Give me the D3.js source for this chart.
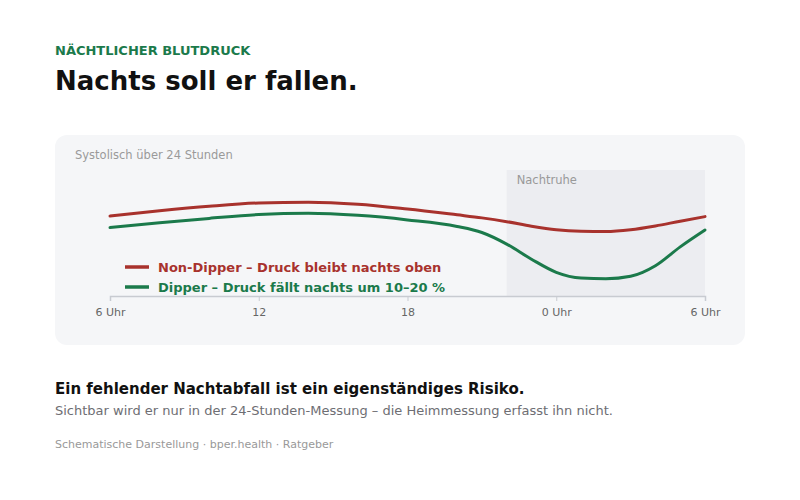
<!DOCTYPE html>
<html>
<head>
<meta charset="utf-8">
<script src="https://cdn.jsdelivr.net/npm/d3@7"></script>
<style>
  body { margin: 0; background: #fff; }
  svg { display: block; font-family: "DejaVu Sans", sans-serif; }
</style>
</head>
<body>
<div id="chart"></div>
<script>
// hours after 6 Uhr (0..24)
var hours = [0, 2, 4, 6, 8, 10, 12, 14, 15, 16, 17, 18, 19, 20, 21, 22, 23, 24];
// schematic systolic values (mmHg)
var nonDipper = [131.7, 133.8, 135.6, 136.9, 137.2, 136.4, 134.5, 132.2, 131.0, 129.5, 127.7, 126.3, 125.7, 125.6, 126.3, 127.8, 129.7, 131.5];
var dipper    = [127.2, 129.1, 130.8, 132.3, 132.8, 132.0, 130.2, 127.6, 125.2, 120.6, 114.6, 109.4, 107.1, 106.8, 107.8, 112.0, 119.5, 126.2];

var tickHours = [0, 6, 12, 18, 24];
var tickLabels = ["6 Uhr", "12", "18", "0 Uhr", "6 Uhr"];
var nightStart = 16, nightEnd = 24;

var legendLabels = ["Non-Dipper – Druck bleibt nachts oben", "Dipper – Druck fällt nachts um 10–20 %"];
var colors = ["#a8322d", "#1b7a4b"];

var W = 800, H = 500;

var svg = d3.select("#chart")
            .append("svg")
            .attr("width", W)
            .attr("height", H);

// header
svg.append("text")
   .attr("x", 55).attr("y", 55)
   .attr("fill", "#1b7a4b")
   .style("font-size", "13px")
   .style("font-weight", "bold")
   .text("NÄCHTLICHER BLUTDRUCK");

svg.append("text")
   .attr("x", 55).attr("y", 90)
   .attr("fill", "#111")
   .style("font-size", "26px")
   .style("font-weight", "bold")
   .text("Nachts soll er fallen.");

// card
svg.append("rect")
   .attr("x", 55).attr("y", 135)
   .attr("width", 690).attr("height", 210)
   .attr("rx", 12)
   .attr("fill", "#f5f6f8");

svg.append("text")
   .attr("x", 75).attr("y", 159)
   .attr("fill", "#9a9a9a")
   .style("font-size", "11.5px")
   .text("Systolisch über 24 Stunden");

var x = d3.scaleLinear().domain([0, 24]).range([110, 705]);
var y = d3.scaleLinear().domain([100, 150]).range([296, 170]);

// night band
svg.append("rect")
   .attr("x", x(nightStart))
   .attr("y", y(150))
   .attr("width", x(nightEnd) - x(nightStart))
   .attr("height", y(100) - y(150))
   .attr("fill", "#ecedf1");

svg.append("text")
   .attr("x", x(nightStart) + 10).attr("y", 184)
   .attr("fill", "#999")
   .style("font-size", "11.5px")
   .text("Nachtruhe");

// axis
var axis = svg.append("g")
   .attr("transform", "translate(0," + y(100) + ")")
   .call(d3.axisBottom(x)
      .tickValues(tickHours)
      .tickFormat(function (d, i) { return tickLabels[i]; })
      .tickSize(5)
      .tickPadding(7));
axis.select(".domain").attr("stroke", "#c8cbd1").attr("stroke-width", 1.5);
axis.selectAll(".tick line").attr("stroke", "#c8cbd1");
axis.selectAll(".tick text")
    .attr("fill", "#666")
    .style("font-size", "11px")
    .style("font-family", "DejaVu Sans, sans-serif");

var line = d3.line()
   .x(function (d) { return x(d[0]); })
   .y(function (d) { return y(d[1]); })
   .curve(d3.curveMonotoneX);

[nonDipper, dipper].forEach(function (series, i) {
   svg.append("path")
      .datum(hours.map(function (h, j) { return [h, series[j]]; }))
      .attr("d", line)
      .attr("fill", "none")
      .attr("stroke", colors[i])
      .attr("stroke-width", 3)
      .attr("stroke-linecap", "round");
});

// legend
var legend = svg.selectAll(".legend")
   .data(legendLabels)
   .enter()
   .append("g")
   .attr("transform", function (d, i) { return "translate(125," + (267 + i * 20) + ")"; });

legend.append("line")
   .attr("x1", 0).attr("x2", 24)
   .attr("stroke", function (d, i) { return colors[i]; })
   .attr("stroke-width", 3.5);

legend.append("text")
   .attr("x", 33).attr("y", 5)
   .attr("fill", function (d, i) { return colors[i]; })
   .style("font-size", "13px")
   .style("font-weight", "bold")
   .text(function (d) { return d; });

// notes
svg.append("text")
   .attr("x", 55).attr("y", 394)
   .attr("fill", "#111")
   .style("font-size", "15px")
   .style("font-weight", "bold")
   .text("Ein fehlender Nachtabfall ist ein eigenständiges Risiko.");

svg.append("text")
   .attr("x", 55).attr("y", 415)
   .attr("fill", "#6e6e73")
   .style("font-size", "13px")
   .text("Sichtbar wird er nur in der 24-Stunden-Messung – die Heimmessung erfasst ihn nicht.");

svg.append("text")
   .attr("x", 55).attr("y", 448)
   .attr("fill", "#999")
   .style("font-size", "11px")
   .text("Schematische Darstellung · bper.health · Ratgeber");
</script>
</body>
</html>
